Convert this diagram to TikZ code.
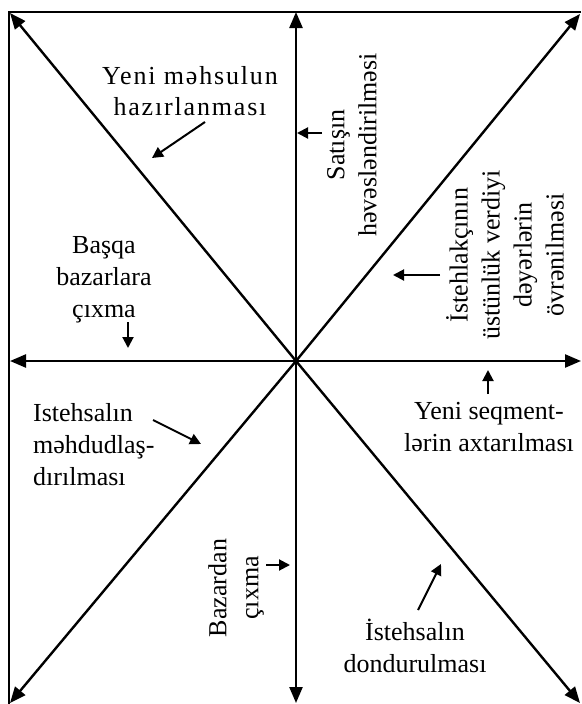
\documentclass[tikz,border=0pt]{standalone}
\usepackage{fontspec}
\setmainfont{Liberation Serif}
\usetikzlibrary{arrows.meta}
\begin{document}
\begin{tikzpicture}[x=1pt,y=-1pt,
  axis/.style={line width=2.4pt,-{Triangle[length=16pt,width=13pt]}},
  frame/.style={line width=1.3pt},
  pointer/.style={line width=2pt,-{Triangle[length=11pt,width=11pt]}},
  lbl/.style={align=center,font=\fontsize{26}{32}\selectfont,inner sep=0pt},
  wide/.style={font=\fontsize{26}{31}\selectfont\addfontfeature{LetterSpace=7}}]
\useasboundingbox (0,0) rectangle (581,704);

% centre and the eight arrow ends
\coordinate (O)  at (296,361);
\coordinate (TL) at (10,13);
\coordinate (T)  at (296,12);
\coordinate (TR) at (580,14);
\coordinate (R)  at (581,361);
\coordinate (BR) at (580,703);
\coordinate (B)  at (296,703);
\coordinate (BL) at (10,703);
\coordinate (L)  at (10,361);

% frame along the top and left edges
\draw[frame] (581,12) -- (9,12) -- (9,704);

% axes radiating from the centre
\foreach \e in {TL,T,TR,R,BR,B,BL,L}
  \draw[axis] (O) -- (\e);

% labels
\node[lbl,wide] (t1) at (190,91) {Yeni məhsulun\\hazırlanması};
\node[lbl,rotate=90] (t2) at (352,145) {Satışın\\həvəsləndirilməsi};
\node[lbl,rotate=90] (t3) at (505,255) {İstehlakçının\\üstünlük verdiyi\\dəyərlərin\\övrənilməsi};
\node[lbl] (t4) at (104,280) {Başqa\\bazarlara\\çıxma};
\node[lbl,align=left,anchor=west] (t5) at (33,445) {Istehsalın\\məhdudlaş-\\dırılması};
\node[lbl] (t6) at (489,427) {Yeni seqment-\\lərin axtarılması};
\node[lbl,rotate=90] (t7) at (236,588) {Bazardan\\çıxma};
\node[lbl] (t8) at (415,646) {İstehsalın\\dondurulması};

% pointer arrows
\coordinate (p1a) at (205,122); \coordinate (p1b) at (152,158);
\coordinate (p2a) at (322,133); \coordinate (p2b) at (297,133);
\coordinate (p3a) at (440,275); \coordinate (p3b) at (393,275);
\coordinate (p4a) at (128,322); \coordinate (p4b) at (128,348);
\coordinate (p5a) at (153,420); \coordinate (p5b) at (201,444);
\coordinate (p6a) at (488,394); \coordinate (p6b) at (488,370);
\coordinate (p7a) at (266,565); \coordinate (p7b) at (290,565);
\coordinate (p8a) at (418,610); \coordinate (p8b) at (441,564);
\foreach \i in {1,...,8}
  \draw[pointer] (p\i a) -- (p\i b);
\end{tikzpicture}
\end{document}
